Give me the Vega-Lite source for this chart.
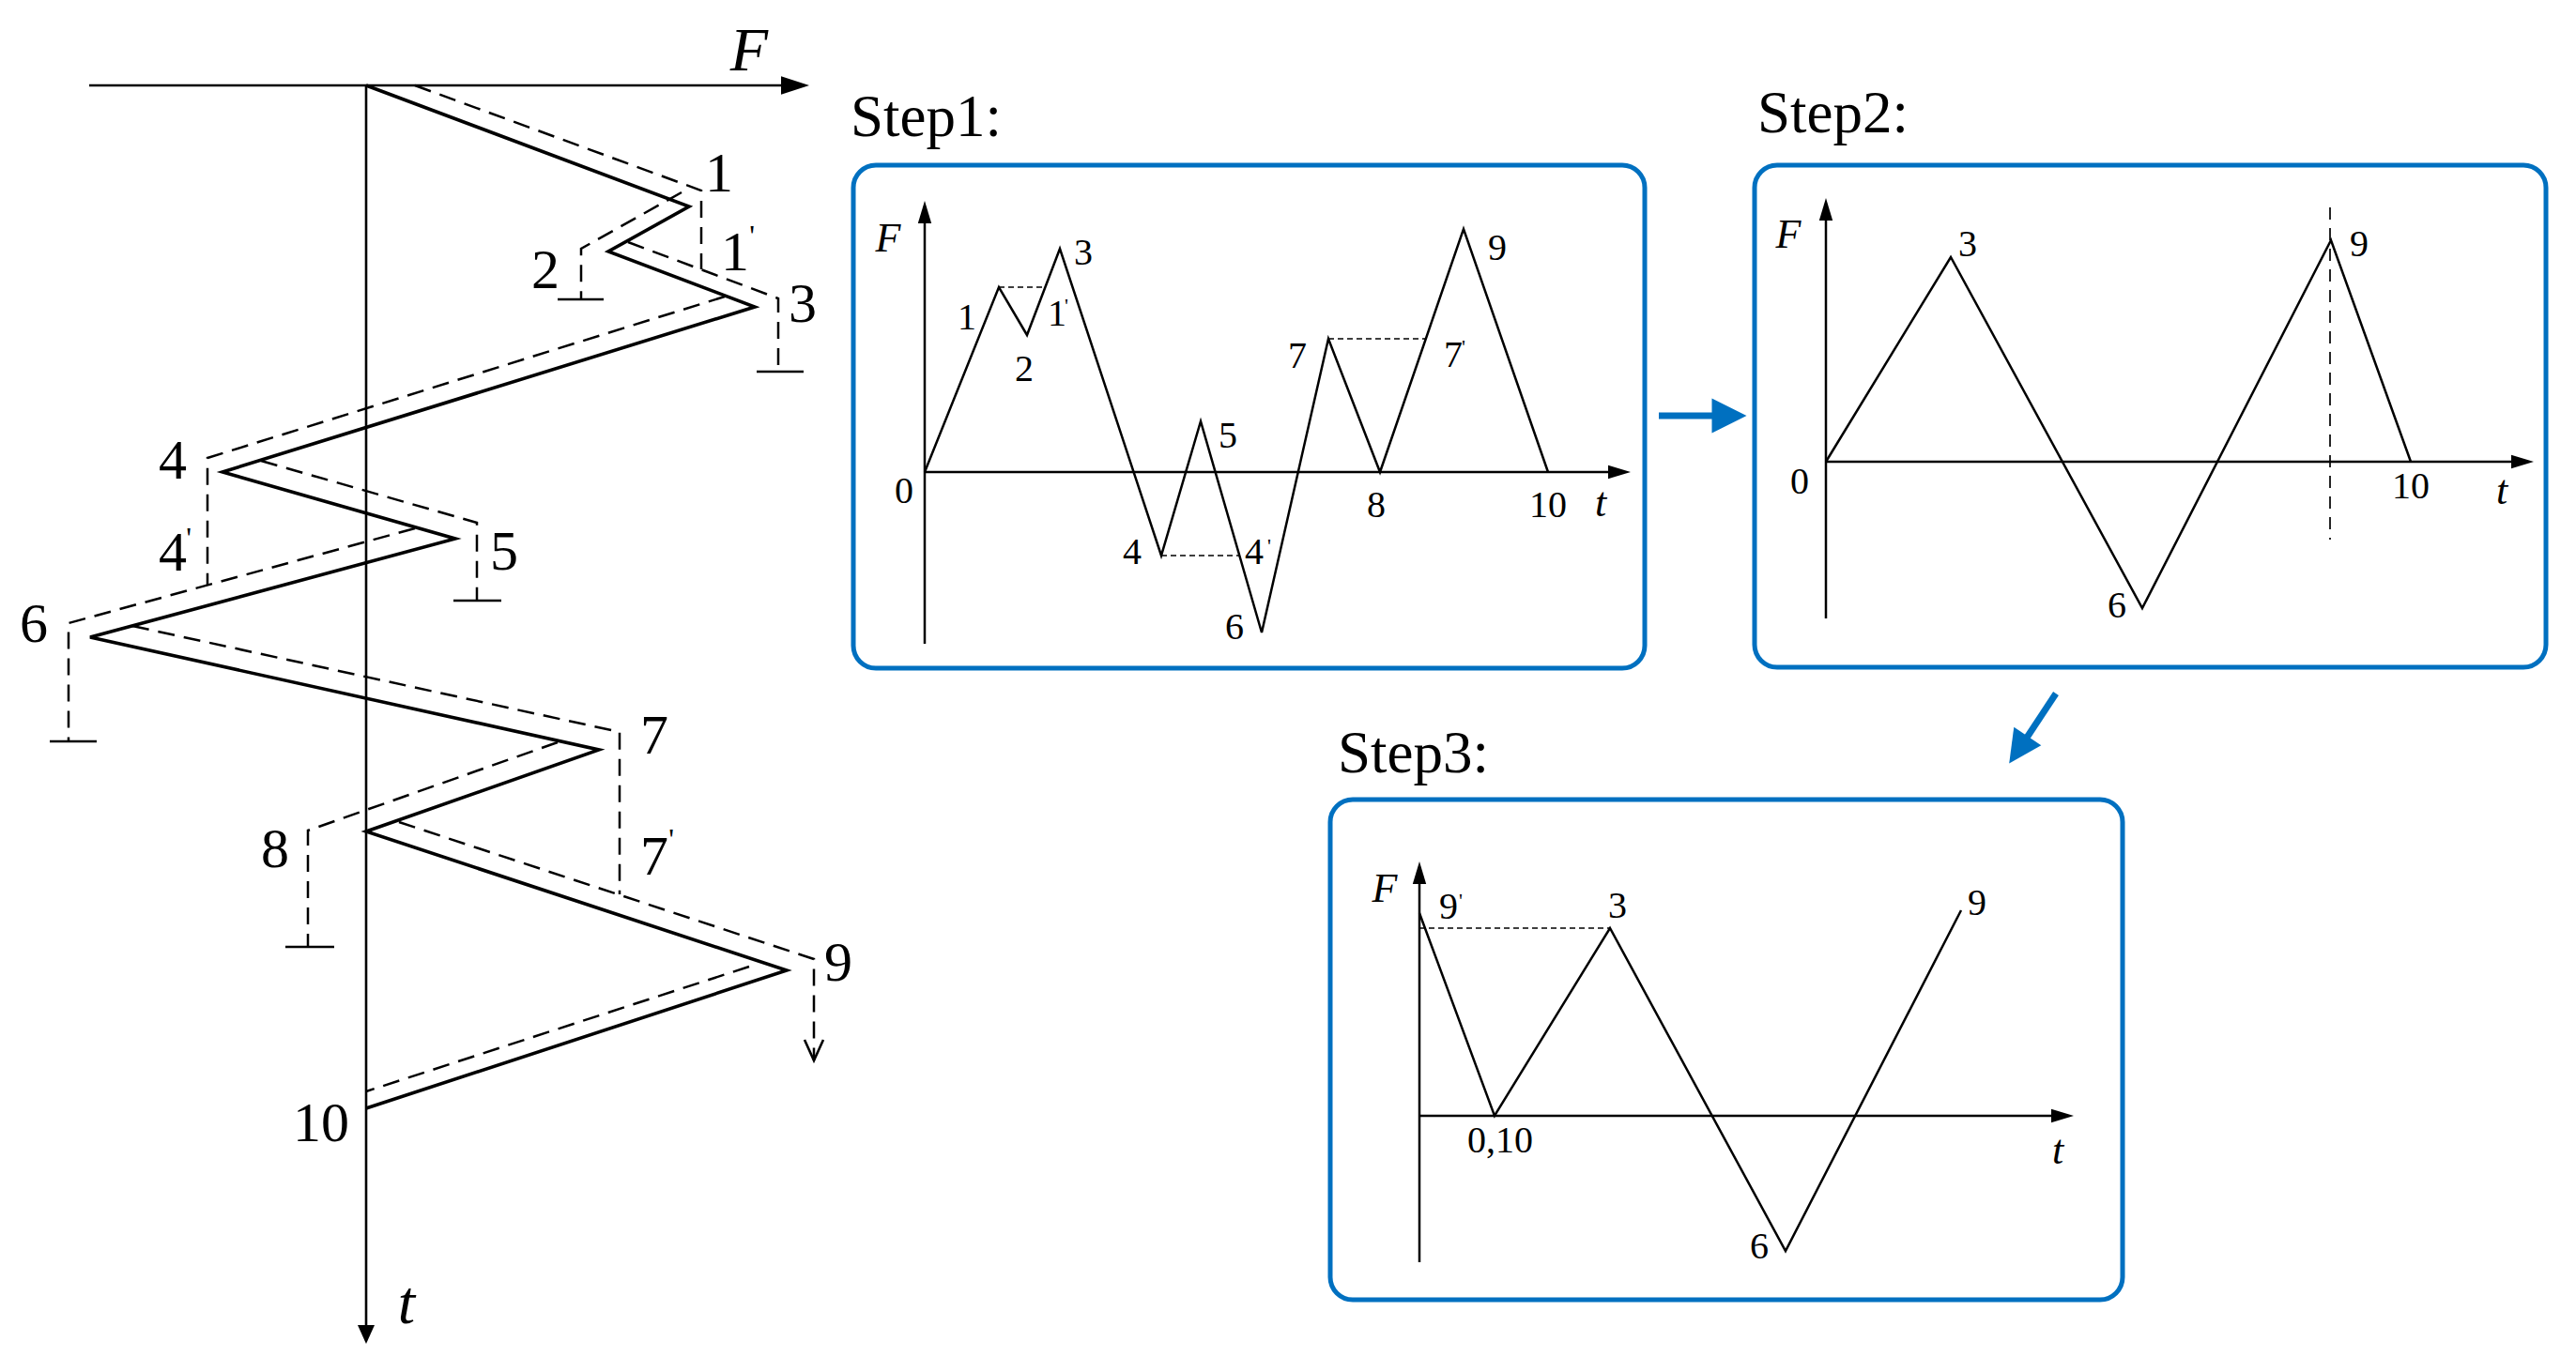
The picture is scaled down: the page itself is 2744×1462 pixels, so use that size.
{
"$schema":"https://vega.github.io/schema/vega-lite/v6.json",
"width":2744,"height":1462,"autosize":{"type":"fit","contains":"padding"},"padding":0,
"background":"white",
"config":{"view":{"stroke":null},"text":{"font":"'Liberation Serif', 'Times New Roman', 'DejaVu Serif', serif"}},
"datasets":{
"paths":[
{"k":"ax","g":"LF","i":0,"x":95,"y":91},{"k":"ax","g":"LF","i":1,"x":836,"y":91},
{"k":"ax","g":"Lt","i":0,"x":390,"y":91},{"k":"ax","g":"Lt","i":1,"x":390,"y":1414},
{"k":"ax","g":"k2","i":0,"x":594,"y":319},{"k":"ax","g":"k2","i":1,"x":643,"y":319},
{"k":"ax","g":"k3","i":0,"x":806,"y":396},{"k":"ax","g":"k3","i":1,"x":856,"y":396},
{"k":"ax","g":"k5","i":0,"x":483,"y":640},{"k":"ax","g":"k5","i":1,"x":534,"y":640},
{"k":"ax","g":"k6","i":0,"x":53,"y":790},{"k":"ax","g":"k6","i":1,"x":103,"y":790},
{"k":"ax","g":"k8","i":0,"x":304,"y":1009},{"k":"ax","g":"k8","i":1,"x":356,"y":1009},
{"k":"ax","g":"v9","i":0,"x":857,"y":1108},{"k":"ax","g":"v9","i":1,"x":867,"y":1130},{"k":"ax","g":"v9","i":2,"x":877,"y":1108},
{"k":"th","g":"zz","i":0,"x":390,"y":91},{"k":"th","g":"zz","i":1,"x":734,"y":220},{"k":"th","g":"zz","i":2,"x":648,"y":268},{"k":"th","g":"zz","i":3,"x":804,"y":327},{"k":"th","g":"zz","i":4,"x":237,"y":503},{"k":"th","g":"zz","i":5,"x":485,"y":574},{"k":"th","g":"zz","i":6,"x":96,"y":679},{"k":"th","g":"zz","i":7,"x":638,"y":799},{"k":"th","g":"zz","i":8,"x":390,"y":886},{"k":"th","g":"zz","i":9,"x":838,"y":1034},{"k":"th","g":"zz","i":10,"x":390,"y":1181},
{"k":"da","g":"A","i":0,"x":442,"y":91},{"k":"da","g":"A","i":1,"x":747,"y":203},{"k":"da","g":"A","i":2,"x":747,"y":287},
{"k":"da","g":"B","i":0,"x":726,"y":205},{"k":"da","g":"B","i":1,"x":619,"y":265},{"k":"da","g":"B","i":2,"x":619,"y":319},
{"k":"da","g":"C","i":0,"x":669,"y":258},{"k":"da","g":"C","i":1,"x":829,"y":318},{"k":"da","g":"C","i":2,"x":829,"y":396},
{"k":"da","g":"D","i":0,"x":772,"y":316},{"k":"da","g":"D","i":1,"x":221,"y":488},{"k":"da","g":"D","i":2,"x":221,"y":623},
{"k":"da","g":"E","i":0,"x":278,"y":491},{"k":"da","g":"E","i":1,"x":508,"y":557},{"k":"da","g":"E","i":2,"x":508,"y":640},
{"k":"da","g":"F","i":0,"x":442,"y":563},{"k":"da","g":"F","i":1,"x":73,"y":664},{"k":"da","g":"F","i":2,"x":73,"y":790},
{"k":"da","g":"G","i":0,"x":141,"y":667},{"k":"da","g":"G","i":1,"x":660,"y":780},{"k":"da","g":"G","i":2,"x":660,"y":953},
{"k":"da","g":"H","i":0,"x":594,"y":791},{"k":"da","g":"H","i":1,"x":328,"y":885},{"k":"da","g":"H","i":2,"x":328,"y":1009},
{"k":"da","g":"I","i":0,"x":425,"y":876},{"k":"da","g":"I","i":1,"x":867,"y":1022},{"k":"da","g":"I","i":2,"x":867,"y":1130},
{"k":"da","g":"J","i":0,"x":798,"y":1030},{"k":"da","g":"J","i":1,"x":390,"y":1163},
{"k":"tn","g":"S1F","i":0,"x":985,"y":686},{"k":"tn","g":"S1F","i":1,"x":985,"y":237},
{"k":"tn","g":"S1t","i":0,"x":985,"y":503},{"k":"tn","g":"S1t","i":1,"x":1713,"y":503},
{"k":"tn","g":"S1z","i":0,"x":985,"y":503},{"k":"tn","g":"S1z","i":1,"x":1064,"y":306},{"k":"tn","g":"S1z","i":2,"x":1094,"y":357},{"k":"tn","g":"S1z","i":3,"x":1129,"y":265},{"k":"tn","g":"S1z","i":4,"x":1237,"y":592},{"k":"tn","g":"S1z","i":5,"x":1279,"y":449},{"k":"tn","g":"S1z","i":6,"x":1344,"y":674},{"k":"tn","g":"S1z","i":7,"x":1415,"y":361},{"k":"tn","g":"S1z","i":8,"x":1470,"y":503},{"k":"tn","g":"S1z","i":9,"x":1559,"y":244},{"k":"tn","g":"S1z","i":10,"x":1649,"y":503},
{"k":"tn","g":"S2F","i":0,"x":1945,"y":659},{"k":"tn","g":"S2F","i":1,"x":1945,"y":234},
{"k":"tn","g":"S2t","i":0,"x":1945,"y":492},{"k":"tn","g":"S2t","i":1,"x":2675,"y":492},
{"k":"tn","g":"S2z","i":0,"x":1945,"y":492},{"k":"tn","g":"S2z","i":1,"x":2078,"y":274},{"k":"tn","g":"S2z","i":2,"x":2282,"y":648},{"k":"tn","g":"S2z","i":3,"x":2483,"y":256},{"k":"tn","g":"S2z","i":4,"x":2568,"y":492},
{"k":"tn","g":"S3F","i":0,"x":1512,"y":1345},{"k":"tn","g":"S3F","i":1,"x":1512,"y":941},
{"k":"tn","g":"S3t","i":0,"x":1512,"y":1189},{"k":"tn","g":"S3t","i":1,"x":2185,"y":1189},
{"k":"tn","g":"S3z","i":0,"x":1512,"y":973},{"k":"tn","g":"S3z","i":1,"x":1592,"y":1189},{"k":"tn","g":"S3z","i":2,"x":1715,"y":989},{"k":"tn","g":"S3z","i":3,"x":1902,"y":1333},{"k":"tn","g":"S3z","i":4,"x":2089,"y":970},
{"k":"sd","g":"d1","i":0,"x":1064,"y":306},{"k":"sd","g":"d1","i":1,"x":1113,"y":306},
{"k":"sd","g":"d4","i":0,"x":1237,"y":592},{"k":"sd","g":"d4","i":1,"x":1320,"y":592},
{"k":"sd","g":"d7","i":0,"x":1415,"y":361},{"k":"sd","g":"d7","i":1,"x":1519,"y":361},
{"k":"sd","g":"d9","i":0,"x":1512,"y":989},{"k":"sd","g":"d9","i":1,"x":1715,"y":989},
{"k":"vd","g":"v2","i":0,"x":2482,"y":221},{"k":"vd","g":"v2","i":1,"x":2482,"y":575},
{"k":"bl","g":"b1","i":0,"x":1767,"y":443},{"k":"bl","g":"b1","i":1,"x":1827,"y":443},
{"k":"bl","g":"b2","i":0,"x":2190,"y":739},{"k":"bl","g":"b2","i":1,"x":2159,"y":786}
],
"heads":[
{"d":"R1","x":847,"y":91},
{"d":"D","x":390,"y":1422},
{"d":"R2","x":1725,"y":503},{"d":"R2","x":2687,"y":492},{"d":"R2","x":2197,"y":1189},
{"d":"U","x":985,"y":226},{"d":"U","x":1945,"y":223},{"d":"U","x":1512,"y":930},
{"d":"BR","x":1842,"y":443},
{"d":"BD","x":2150,"y":799}
],
"boxes":[
{"x":909,"y":176,"x2":1752,"y2":712},
{"x":1869,"y":176,"x2":2712,"y2":711},
{"x":1417,"y":852,"x2":2261,"y2":1385}
],
"labels":[
{"k":"L","s":"1","x":766,"y":186},{"k":"L","s":"1","x":783,"y":270},{"k":"L","s":"2","x":581,"y":289},{"k":"L","s":"3","x":855,"y":325},{"k":"L","s":"4","x":184,"y":492},{"k":"L","s":"4","x":184,"y":590},{"k":"L","s":"5","x":537,"y":589},{"k":"L","s":"6","x":36,"y":666},{"k":"L","s":"7","x":697,"y":785},{"k":"L","s":"7","x":697,"y":914},{"k":"L","s":"8","x":293,"y":906},{"k":"L","s":"9","x":893,"y":1027},{"k":"L","s":"10","x":342,"y":1198},
{"k":"Lp","s":"'","x":801,"y":252},{"k":"Lp","s":"'","x":201,"y":574},{"k":"Lp","s":"'","x":715,"y":895},
{"k":"Li","s":"F","x":798,"y":55},{"k":"Li","s":"t","x":433,"y":1390},
{"k":"S","s":"1","x":1030,"y":339},{"k":"S","s":"1","x":1126,"y":335},{"k":"S","s":"2","x":1091,"y":394},{"k":"S","s":"3","x":1154,"y":270},{"k":"S","s":"0","x":963,"y":524},{"k":"S","s":"4","x":1206,"y":589},{"k":"S","s":"4","x":1336,"y":589},{"k":"S","s":"5","x":1308,"y":465},{"k":"S","s":"6","x":1315,"y":669},{"k":"S","s":"7","x":1382,"y":380},{"k":"S","s":"7","x":1548,"y":379},{"k":"S","s":"8","x":1466,"y":539},{"k":"S","s":"9","x":1595,"y":265},{"k":"S","s":"10","x":1649,"y":539},
{"k":"S","s":"3","x":2096,"y":261},{"k":"S","s":"9","x":2513,"y":261},{"k":"S","s":"0","x":1917,"y":514},{"k":"S","s":"10","x":2568,"y":519},{"k":"S","s":"6","x":2255,"y":646},
{"k":"S","s":"9","x":1543,"y":967},{"k":"S","s":"3","x":1723,"y":966},{"k":"S","s":"9","x":2106,"y":963},{"k":"S","s":"0,10","x":1598,"y":1216},{"k":"S","s":"6","x":1874,"y":1329},
{"k":"Sp","s":"'","x":1136,"y":326},{"k":"Sp","s":"'","x":1352,"y":582},{"k":"Sp","s":"'","x":1559,"y":370},{"k":"Sp","s":"'","x":1556,"y":960},
{"k":"Si","s":"F","x":946,"y":255},{"k":"Si","s":"t","x":1705,"y":537},{"k":"Si","s":"F","x":1905,"y":251},{"k":"Si","s":"t","x":2665,"y":524},{"k":"Si","s":"F","x":1475,"y":948},{"k":"Si","s":"t","x":2192,"y":1227},
{"k":"T","s":"Step1:","x":906,"y":126},{"k":"T","s":"Step2:","x":1872,"y":122},{"k":"T","s":"Step3:","x":1425,"y":804}
]
},
"encoding":{
"x":{"field":"x","type":"quantitative","scale":{"domain":[0,2744],"nice":false,"zero":false},"axis":null},
"y":{"field":"y","type":"quantitative","scale":{"domain":[0,1462],"nice":false,"zero":false,"reverse":true},"axis":null}
},
"layer":[
{"data":{"name":"boxes"},"mark":{"type":"rect","filled":false,"color":"#0070C0","strokeWidth":5,"cornerRadius":24},"encoding":{"x2":{"field":"x2"},"y2":{"field":"y2"}}},
{"data":{"name":"paths"},"transform":[{"filter":"datum.k==='ax'"}],"mark":{"type":"line","color":"black","strokeWidth":2.6},"encoding":{"detail":{"field":"g"},"order":{"field":"i"}}},
{"data":{"name":"paths"},"transform":[{"filter":"datum.k==='th'"}],"mark":{"type":"line","color":"black","strokeWidth":3.6,"strokeJoin":"miter"},"encoding":{"detail":{"field":"g"},"order":{"field":"i"}}},
{"data":{"name":"paths"},"transform":[{"filter":"datum.k==='da'"}],"mark":{"type":"line","color":"black","strokeWidth":2.5,"strokeDash":[18,10],"strokeJoin":"miter"},"encoding":{"detail":{"field":"g"},"order":{"field":"i"}}},
{"data":{"name":"paths"},"transform":[{"filter":"datum.k==='tn'"}],"mark":{"type":"line","color":"black","strokeWidth":2.5,"strokeJoin":"miter"},"encoding":{"detail":{"field":"g"},"order":{"field":"i"}}},
{"data":{"name":"paths"},"transform":[{"filter":"datum.k==='sd'"}],"mark":{"type":"line","color":"black","strokeWidth":1.7,"strokeDash":[6,4]},"encoding":{"detail":{"field":"g"},"order":{"field":"i"}}},
{"data":{"name":"paths"},"transform":[{"filter":"datum.k==='vd'"}],"mark":{"type":"line","color":"black","strokeWidth":1.7,"strokeDash":[13,9]},"encoding":{"detail":{"field":"g"},"order":{"field":"i"}}},
{"data":{"name":"paths"},"transform":[{"filter":"datum.k==='bl'"}],"mark":{"type":"line","color":"#0070C0","strokeWidth":7},"encoding":{"detail":{"field":"g"},"order":{"field":"i"}}},
{"data":{"name":"heads"},"transform":[{"filter":"datum.d==='R1'"}],"mark":{"type":"point","filled":true,"color":"black","opacity":1,"strokeWidth":0,"shape":"M-1,-0.65L1,0L-1,0.65Z","size":900}},
{"data":{"name":"heads"},"transform":[{"filter":"datum.d==='D'"}],"mark":{"type":"point","filled":true,"color":"black","opacity":1,"strokeWidth":0,"shape":"M-1,-0.9L1,0L-1,0.9Z","size":400,"angle":90}},
{"data":{"name":"heads"},"transform":[{"filter":"datum.d==='R2'"}],"mark":{"type":"point","filled":true,"color":"black","opacity":1,"strokeWidth":0,"shape":"M-1,-0.6L1,0L-1,0.6Z","size":576}},
{"data":{"name":"heads"},"transform":[{"filter":"datum.d==='U'"}],"mark":{"type":"point","filled":true,"color":"black","opacity":1,"strokeWidth":0,"shape":"M-1,-0.6L1,0L-1,0.6Z","size":576,"angle":270}},
{"data":{"name":"heads"},"transform":[{"filter":"datum.d==='BR'"}],"mark":{"type":"point","filled":true,"color":"#0070C0","opacity":1,"strokeWidth":0,"shape":"M-1,-1L1,0L-1,1Z","size":1369}},
{"data":{"name":"heads"},"transform":[{"filter":"datum.d==='BD'"}],"mark":{"type":"point","filled":true,"color":"#0070C0","opacity":1,"strokeWidth":0,"shape":"M-1,-1L1,0L-1,1Z","size":1225,"angle":124}},
{"data":{"name":"labels"},"transform":[{"filter":"datum.k==='L'"}],"mark":{"type":"text","fontSize":60,"align":"center","baseline":"middle","color":"black"},"encoding":{"text":{"field":"s"}}},
{"data":{"name":"labels"},"transform":[{"filter":"datum.k==='Lp'"}],"mark":{"type":"text","fontSize":32,"align":"center","baseline":"middle","color":"black"},"encoding":{"text":{"field":"s"}}},
{"data":{"name":"labels"},"transform":[{"filter":"datum.k==='Li'"}],"mark":{"type":"text","fontStyle":"italic","fontSize":66,"align":"center","baseline":"middle","color":"black"},"encoding":{"text":{"field":"s"}}},
{"data":{"name":"labels"},"transform":[{"filter":"datum.k==='S'"}],"mark":{"type":"text","fontSize":40,"align":"center","baseline":"middle","color":"black"},"encoding":{"text":{"field":"s"}}},
{"data":{"name":"labels"},"transform":[{"filter":"datum.k==='Sp'"}],"mark":{"type":"text","fontSize":22,"align":"center","baseline":"middle","color":"black"},"encoding":{"text":{"field":"s"}}},
{"data":{"name":"labels"},"transform":[{"filter":"datum.k==='Si'"}],"mark":{"type":"text","fontStyle":"italic","fontSize":44,"align":"center","baseline":"middle","color":"black"},"encoding":{"text":{"field":"s"}}},
{"data":{"name":"labels"},"transform":[{"filter":"datum.k==='T'"}],"mark":{"type":"text","fontSize":63,"align":"left","baseline":"middle","color":"black"},"encoding":{"text":{"field":"s"}}}
]
}
